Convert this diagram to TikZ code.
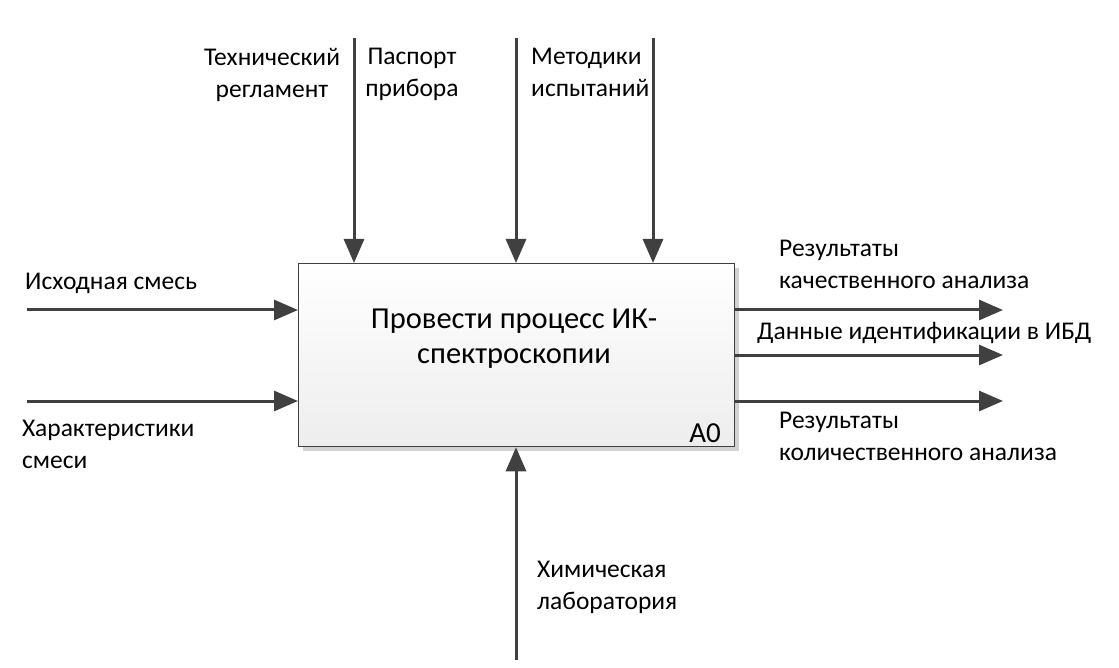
\documentclass[tikz,border=0pt]{standalone}
\usepackage{fontspec}
\setmainfont{Carlito}
\usetikzlibrary{arrows.meta,shadows}

\definecolor{linegray}{HTML}{404040}
\tikzset{
  flow/.style={draw=linegray, line width=3pt, -{Triangle[length=24pt,width=20pt]}},
  lbl/.style={font=\fontsize{25.5}{32}\selectfont, inner sep=0pt},
}

\begin{document}
\begin{tikzpicture}[x=1pt,y=-1pt]
\useasboundingbox (0,0) rectangle (1119,668);

% function box
\node[draw=linegray, line width=1.3pt, anchor=north west, inner sep=0pt,
      minimum width=436pt, minimum height=183pt,
      top color=white, bottom color=gray!14,
      drop shadow={shadow xshift=4pt, shadow yshift=-4pt, fill=gray!35, opacity=1}]
      (proc) at (298,263) {};
\node[font=\fontsize{30.5}{35}\selectfont, align=center, inner sep=0pt] (title) at (514,339)
      {Провести процесс ИК-\\спектроскопии};
\node[lbl, font=\fontsize{29}{30}\selectfont, anchor=south east] (num) at (721,443) {A0};

% controls
\coordinate (c1) at (354,38);
\coordinate (c2) at (516,38);
\coordinate (c3) at (653,38);
\draw[flow] (c1) -- (c1 |- proc.north);
\draw[flow] (c2) -- (c2 |- proc.north);
\draw[flow] (c3) -- (c3 |- proc.north);
\node[lbl, align=center, anchor=north] (regl) at (272,48) {Технический\\регламент};
\node[lbl, align=center, anchor=north] (pasp) at (412,48) {Паспорт\\прибора};
\node[lbl, align=left, anchor=north west] (meth) at (531,48) {Методики\\испытаний};

% inputs
\coordinate (i1) at (27,310);
\coordinate (i2) at (27,401);
\draw[flow] (i1) -- (i1 -| proc.west);
\draw[flow] (i2) -- (i2 -| proc.west);
\node[lbl, anchor=north west] (mix) at (25,273) {Исходная смесь};
\node[lbl, align=left, anchor=north west] (props) at (22,420) {Характеристики\\смеси};

% outputs
\coordinate (o1) at (1003,310);
\coordinate (o2) at (1003,355);
\coordinate (o3) at (1003,401);
\draw[flow] (proc.east |- o1) -- (o1);
\draw[flow] (proc.east |- o2) -- (o2);
\draw[flow] (proc.east |- o3) -- (o3);
\node[lbl, align=left, anchor=north west] (qual) at (779,240) {Результаты\\качественного анализа};
\node[lbl, anchor=north west] (ident) at (757,322) {Данные идентификации в ИБД};
\node[lbl, align=left, anchor=north west] (quant) at (779,412) {Результаты\\количественного анализа};

% mechanism
\coordinate (m1) at (516,660);
\draw[flow] (m1) -- (m1 |- proc.south);
\node[lbl, align=left, anchor=north west] (lab) at (537,561) {Химическая\\лаборатория};
\end{tikzpicture}
\end{document}
